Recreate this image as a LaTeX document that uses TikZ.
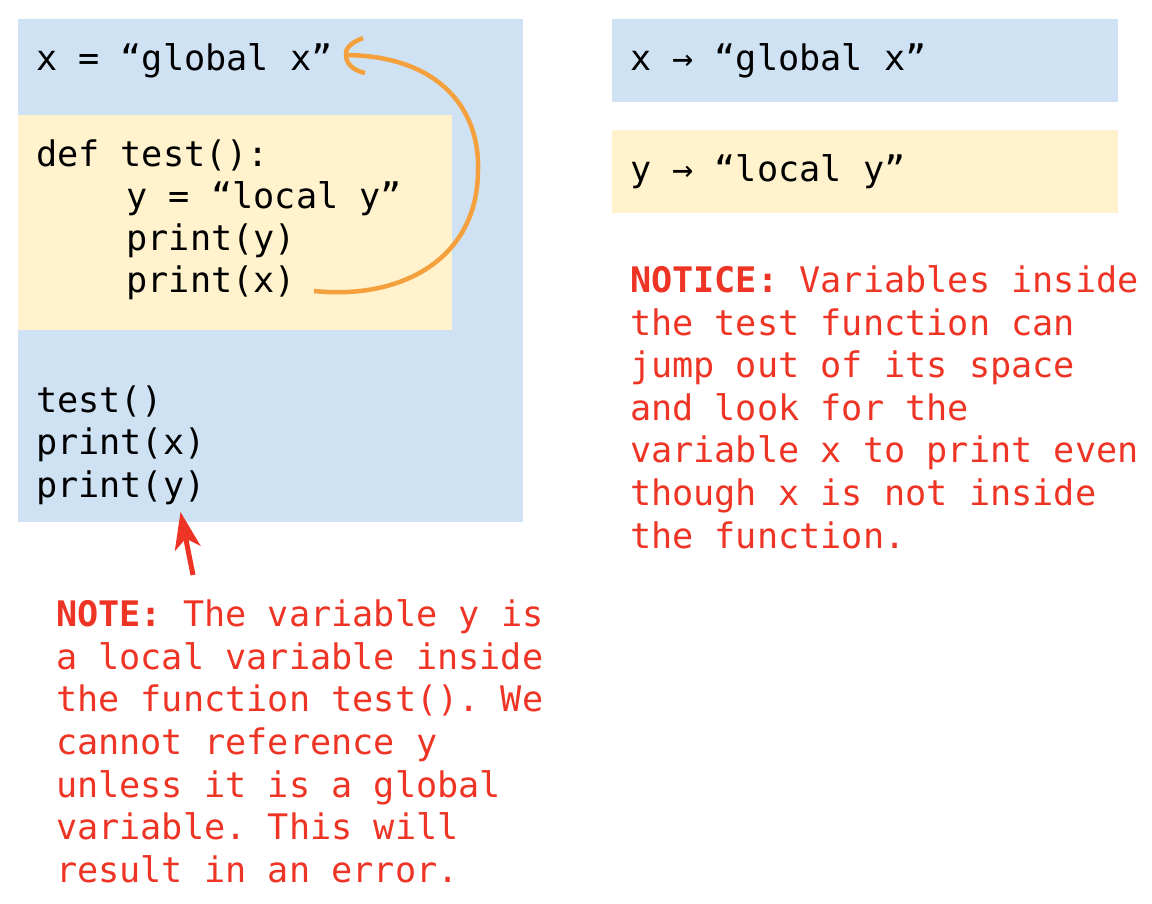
\documentclass[tikz,border=0pt]{standalone}
\usepackage{fontspec}
\setmonofont{DejaVu Sans Mono}
\usetikzlibrary{arrows.meta}
\definecolor{bluebg}{HTML}{CFE2F3}
\definecolor{yellowbg}{HTML}{FFF2CC}
\definecolor{notered}{HTML}{EE3424}
\definecolor{curveorange}{HTML}{F4A03C}
\begin{document}
\begin{tikzpicture}[x=1pt,y=-1pt,
  code/.style={anchor=base west, inner sep=0pt, outer sep=0pt,
    font=\ttfamily\fontsize{35.2}{42.6}\selectfont, text=black},
  note/.style={code, text=notered},
  scopearrow/.style={draw=curveorange, line width=4.5pt},
  errarrow/.style={draw=notered, line width=5pt,
    -{Stealth[length=37pt,width=26pt,inset=10pt]}}]
\useasboundingbox (0,0) rectangle (1152,904);
% background panels
\fill[bluebg] (18,19) rectangle (523,522);
\fill[yellowbg] (18,115) rectangle (452,330);
\fill[bluebg] (612,19) rectangle (1118,102);
\fill[yellowbg] (612,130) rectangle (1118,213);
% code
\node[code] (gx) at (36,71) {x = “global x”};
\node[code] (def) at (36,167) {def test():};
\node[code] (ly) at (126.5,209) {y = “local y”};
\node[code] (py1) at (126.5,251) {print(y)};
\node[code] (px1) at (126.5,293) {print(x)};
\node[code] (call) at (36,412) {test()};
\node[code] (px2) at (36,454.5) {print(x)};
\node[code] (py2) at (36,497) {print(y)};
% right-hand table
\node[code] (tx) at (630,71) {x → “global x”};
\node[code] (ty) at (630,181.5) {y → “local y”};
% notice
\node[note] (n1) at (630,292.5) {\textbf{NOTICE:} Variables inside};
\node[note] (n2) at (630,335.1) {the test function can};
\node[note] (n3) at (630,377.7) {jump out of its space};
\node[note] (n4) at (630,420.3) {and look for the};
\node[note] (n5) at (630,462.9) {variable x to print even};
\node[note] (n6) at (630,505.5) {though x is not inside};
\node[note] (n7) at (630,548.1) {the function.};
% note
\node[note] (m1) at (56,626.7) {\textbf{NOTE:} The variable y is};
\node[note] (m2) at (56,669.3) {a local variable inside};
\node[note] (m3) at (56,711.9) {the function test(). We};
\node[note] (m4) at (56,754.5) {cannot reference y};
\node[note] (m5) at (56,797.1) {unless it is a global};
\node[note] (m6) at (56,839.7) {variable. This will};
\node[note] (m7) at (56,882.3) {result in an error.};
% connectors
\coordinate (cs) at (314,291);
\coordinate (ce) at (346,55);
\coordinate (hu) at (363,38);
\coordinate (hl) at (365,73);
\draw[scopearrow] (cs) .. controls (400,300) and (478,260) .. (478,170)
   .. controls (480,110) and (440,56) .. (ce);
\draw[scopearrow] (hu) .. controls (350,43) and (345,49) .. (ce)
   .. controls (346,63) and (352,70) .. (hl);
\coordinate (rs) at (193,575);
\coordinate (re) at (180.5,512);
\draw[errarrow] (rs) -- (re);
\end{tikzpicture}
\end{document}
